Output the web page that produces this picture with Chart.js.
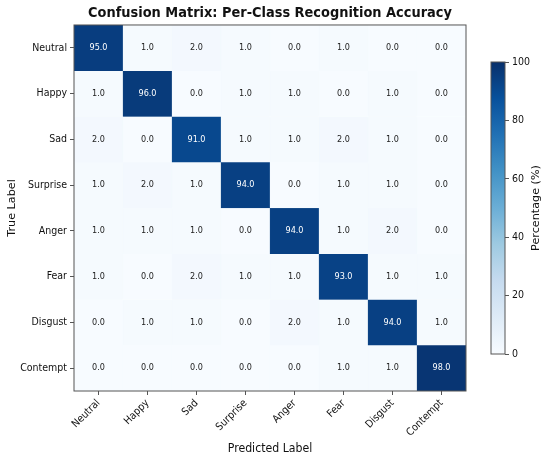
<!DOCTYPE html>
<html>
<head>
<meta charset="utf-8">
<script src="https://cdn.jsdelivr.net/npm/chart.js@4.4.1/dist/chart.umd.min.js"></script>
<style>
  html, body { margin: 0; padding: 0; background: #fff; overflow: hidden; }
  #wrap { position: relative; width: 550px; height: 460px; }
  #main { position: absolute; left: 0; top: 0; }
  #cbar { position: absolute; left: 480px; top: 0; }
</style>
</head>
<body>
<div id="wrap">
  <canvas id="main" width="550" height="460"></canvas>
  <canvas id="cbar" width="70" height="460"></canvas>
</div>
<script>
// 类别与混淆矩阵数据（行：真实标签，列：预测标签，单位 %）
const trueLabels = ['Neutral', 'Happy', 'Sad', 'Surprise', 'Anger', 'Fear', 'Disgust', 'Contempt'];
const predLabels = ['Neutral', 'Happy', 'Sad', 'Surprise', 'Anger', 'Fear', 'Disgust', 'Contempt'];

const rowNeutral  = [95.0, 1.0, 2.0, 1.0, 0.0, 1.0, 0.0, 0.0];
const rowHappy    = [1.0, 96.0, 0.0, 1.0, 1.0, 0.0, 1.0, 0.0];
const rowSad      = [2.0, 0.0, 91.0, 1.0, 1.0, 2.0, 1.0, 0.0];
const rowSurprise = [1.0, 2.0, 1.0, 94.0, 0.0, 1.0, 1.0, 0.0];
const rowAnger    = [1.0, 1.0, 1.0, 0.0, 94.0, 1.0, 2.0, 0.0];
const rowFear     = [1.0, 0.0, 2.0, 1.0, 1.0, 93.0, 1.0, 1.0];
const rowDisgust  = [0.0, 1.0, 1.0, 0.0, 2.0, 1.0, 94.0, 1.0];
const rowContempt = [0.0, 0.0, 0.0, 0.0, 0.0, 1.0, 1.0, 98.0];

const matrix = [rowNeutral, rowHappy, rowSad, rowSurprise, rowAnger, rowFear, rowDisgust, rowContempt];

const cbarTicks = [0, 20, 40, 60, 80, 100];

// matplotlib Blues 色带
const blues = ['#f7fbff', '#deebf7', '#c6dbef', '#9ecae1', '#6baed6', '#4292c6', '#2171b5', '#08519c', '#08306b'];

function hexToRgb(h) {
  return [parseInt(h.slice(1, 3), 16), parseInt(h.slice(3, 5), 16), parseInt(h.slice(5, 7), 16)];
}

function bluesColor(v) {
  const t = Math.max(0, Math.min(1, v / 100)) * (blues.length - 1);
  const i = Math.min(Math.floor(t), blues.length - 2);
  const f = t - i;
  const a = hexToRgb(blues[i]);
  const b = hexToRgb(blues[i + 1]);
  const c = a.map((x, k) => Math.round(x + (b[k] - x) * f));
  return `rgb(${c[0]}, ${c[1]}, ${c[2]})`;
}

// 原图文字偏窄偏高，用 Condensed 字体近似
const FONT = "'DejaVu Sans', sans-serif";
const FONT_C = "'DejaVu Sans Condensed', 'DejaVu Sans', sans-serif";
const TEXT = '#111';
const SPINE = '#555';

// 每行一个数据集，浮动柱 [i, i+1] 即为单元格
const datasets = matrix.map((row, i) => ({
  label: trueLabels[i],
  data: row.map(() => [i, i + 1]),
  backgroundColor: row.map(v => bluesColor(v)),
  borderColor: row.map(v => bluesColor(v)),
  borderWidth: 0.6,
  borderSkipped: false,
  barPercentage: 1,
  categoryPercentage: 1,
  grouped: false
}));

// 单元格数值与外框
const cellText = {
  id: 'cellText',
  afterDatasetsDraw(chart) {
    const { ctx, chartArea, scales } = chart;
    ctx.save();
    ctx.font = `9px ${FONT_C}`;
    ctx.textAlign = 'center';
    ctx.textBaseline = 'middle';
    matrix.forEach((row, i) => {
      row.forEach((v, j) => {
        const x = scales.x.getPixelForValue(j);
        const y = scales.y.getPixelForValue(i + 0.5);
        ctx.fillStyle = v > 50 ? '#ffffff' : '#222';
        ctx.fillText(v.toFixed(1), x, y);
      });
    });
    ctx.strokeStyle = SPINE;
    ctx.lineWidth = 1;
    ctx.strokeRect(chartArea.left, chartArea.top, chartArea.right - chartArea.left, chartArea.bottom - chartArea.top);
    ctx.restore();
  }
};

new Chart(document.getElementById('main'), {
  type: 'bar',
  data: { labels: predLabels, datasets },
  options: {
    responsive: false,
    animation: false,
    layout: { padding: { left: 0, right: 84, top: 0, bottom: 0 } },
    plugins: {
      legend: { display: false },
      tooltip: { enabled: false },
      title: {
        display: true,
        text: 'Confusion Matrix: Per-Class Recognition Accuracy',
        color: '#111',
        font: { family: FONT_C, size: 14.4, weight: 'bold' },
        padding: { top: 5, bottom: 2.7 },
        fullSize: false
      }
    },
    scales: {
      x: {
        type: 'category',
        offset: true,
        grid: { display: true, offset: false, drawOnChartArea: false, drawTicks: true, tickLength: 4, color: SPINE },
        border: { display: false },
        ticks: {
          color: TEXT,
          font: { family: FONT_C, size: 10.5 },
          minRotation: 45,
          maxRotation: 45,
          padding: 2,
          autoSkip: false
        },
        title: {
          display: true,
          text: 'Predicted Label',
          color: TEXT,
          font: { family: FONT_C, size: 12.2 },
          padding: { top: 5.8 }
        },
        afterFit(scale) { scale.height = 69; }
      },
      y: {
        type: 'linear',
        min: 0,
        max: 8,
        reverse: true,
        grid: { display: true, drawOnChartArea: false, drawTicks: true, tickLength: 4, color: SPINE },
        border: { display: false },
        afterBuildTicks(scale) {
          scale.ticks = trueLabels.map((_, i) => ({ value: i + 0.5 }));
        },
        ticks: {
          color: TEXT,
          font: { family: FONT_C, size: 10.5 },
          padding: 3,
          callback: (value, index) => trueLabels[index]
        },
        title: {
          display: true,
          text: 'True Label',
          color: TEXT,
          font: { family: FONT, size: 11.2 },
          padding: { top: 5.3 }
        },
        afterFit(scale) { scale.width = 74; }
      }
    }
  },
  plugins: [cellText]
});

// 色条
const cbarDeco = {
  id: 'cbarDeco',
  afterDatasetsDraw(chart) {
    const { ctx, chartArea } = chart;
    ctx.save();
    ctx.strokeStyle = SPINE;
    ctx.lineWidth = 1;
    ctx.strokeRect(chartArea.left, chartArea.top, chartArea.right - chartArea.left, chartArea.bottom - chartArea.top);
    ctx.translate(56, (chartArea.top + chartArea.bottom) / 2);
    ctx.rotate(-Math.PI / 2);
    ctx.font = `11.2px ${FONT}`;
    ctx.fillStyle = TEXT;
    ctx.textAlign = 'center';
    ctx.textBaseline = 'middle';
    ctx.fillText('Percentage (%)', 0, 0);
    ctx.restore();
  }
};

new Chart(document.getElementById('cbar'), {
  type: 'bar',
  data: {
    labels: [''],
    datasets: [{
      data: [[cbarTicks[0], cbarTicks[cbarTicks.length - 1]]],
      backgroundColor(context) {
        const { chart } = context;
        const area = chart.chartArea;
        if (!area) return blues[0];
        const g = chart.ctx.createLinearGradient(0, area.bottom, 0, area.top);
        blues.forEach((c, k) => g.addColorStop(k / (blues.length - 1), c));
        return g;
      },
      borderWidth: 0,
      barPercentage: 1,
      categoryPercentage: 1
    }]
  },
  options: {
    responsive: false,
    animation: false,
    layout: { padding: { left: 11, right: 0, top: 62, bottom: 106 } },
    plugins: { legend: { display: false }, tooltip: { enabled: false } },
    scales: {
      x: { display: false },
      y: {
        position: 'right',
        min: 0,
        max: 100,
        grid: { display: true, drawOnChartArea: false, drawTicks: true, tickLength: 4, color: SPINE },
        border: { display: false },
        afterBuildTicks(scale) {
          scale.ticks = cbarTicks.map(v => ({ value: v }));
        },
        ticks: {
          color: TEXT,
          font: { family: FONT_C, size: 10.5 },
          padding: 3
        },
        afterFit(scale) { scale.width = 45; }
      }
    }
  },
  plugins: [cbarDeco]
});
</script>
</body>
</html>
